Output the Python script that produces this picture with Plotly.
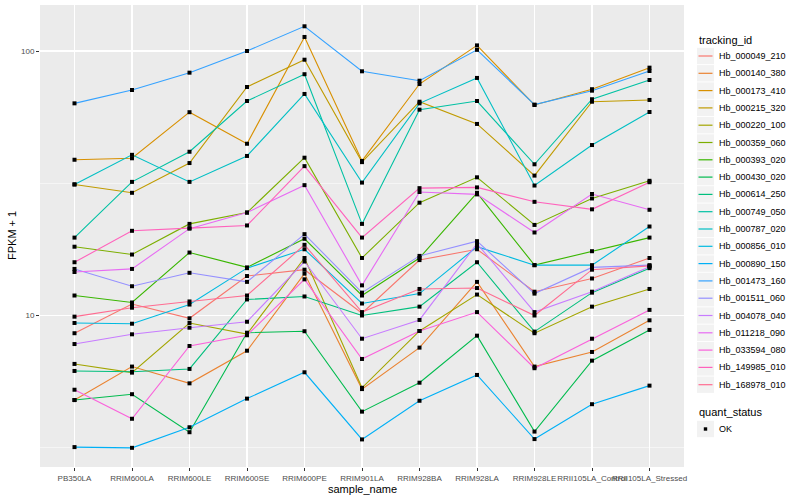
import plotly.graph_objects as go

samples = ["PB350LA", "RRIM600LA", "RRIM600LE", "RRIM600SE", "RRIM600PE", "RRIM901LA",
           "RRIM928BA", "RRIM928LA", "RRIM928LE", "RRII105LA_Control", "RRII105LA_Stressed"]

tracking_ids = ["Hb_000049_210", "Hb_000140_380", "Hb_000173_410", "Hb_000215_320", "Hb_000220_100",
                "Hb_000359_060", "Hb_000393_020", "Hb_000430_020", "Hb_000614_250", "Hb_000749_050",
                "Hb_000787_020", "Hb_000856_010", "Hb_000890_150", "Hb_001473_160", "Hb_001511_060",
                "Hb_004078_040", "Hb_011218_090", "Hb_033594_080", "Hb_149985_010", "Hb_168978_010"]

colors = ["#F8766D", "#EA8331", "#D89000", "#C09B00", "#A3A500", "#7CAE00", "#39B600", "#00BB4E",
          "#00BF7D", "#00C1A3", "#00BFC4", "#00BAE0", "#00B0F6", "#35A2FF", "#9590FF", "#C77CFF",
          "#E76BF3", "#FA62DB", "#FF62BC", "#FF6C91"]

# FPKM + 1 values per gene, in sample order
Hb_000049_210 = [8.57, 11.05, 9.76, 14.1, 14.9, 10.2, 16.2, 17.8, 12.3, 13.8, 16.5]
Hb_000140_380 = [4.79, 6.41, 5.54, 7.36, 14.4, 5.27, 7.56, 13.4, 6.41, 7.28, 9.59]
Hb_000173_410 = [38.8, 39.3, 58.7, 44.6, 113, 38.4, 75.0, 105, 62.5, 71.7, 86.5]
Hb_000215_320 = [31.3, 29.1, 37.7, 73.1, 92.7, 38.0, 64.3, 53.0, 33.8, 64.3, 65.3]
Hb_000220_100 = [6.56, 6.08, 9.37, 8.51, 16.5, 5.33, 8.74, 12.0, 8.57, 10.8, 12.6]
Hb_000359_060 = [18.2, 17.0, 22.2, 24.5, 39.5, 16.5, 26.7, 33.3, 22.0, 27.7, 32.3]
Hb_000393_020 = [11.9, 11.2, 17.3, 15.2, 19.5, 11.9, 16.5, 29.1, 15.5, 17.5, 19.7]
Hb_000430_020 = [4.79, 5.04, 3.62, 8.61, 8.72, 4.33, 5.57, 8.39, 3.64, 6.75, 8.82]
Hb_000614_250 = [6.17, 6.13, 6.28, 11.5, 11.8, 10.0, 10.8, 15.9, 8.69, 12.2, 15.1]
Hb_000749_050 = [19.7, 32.0, 41.6, 64.7, 81.7, 22.2, 60.0, 64.7, 37.3, 65.7, 77.7]
Hb_000787_020 = [31.3, 40.5, 32.0, 40.1, 68.8, 31.8, 63.4, 79.1, 31.0, 44.1, 58.8]
Hb_000856_010 = [9.37, 9.31, 11.0, 15.1, 17.8, 11.1, 12.1, 18.2, 15.5, 15.5, 21.7]
Hb_000890_150 = [3.18, 3.16, 3.78, 4.85, 6.10, 3.40, 4.76, 5.96, 3.41, 4.62, 5.43]
Hb_001473_160 = [63.4, 71.2, 82.8, 100, 124, 83.8, 77.2, 101, 62.7, 70.8, 84.0]
Hb_001511_060 = [15.0, 12.9, 14.5, 13.4, 20.3, 12.2, 16.8, 19.1, 12.1, 15.2, 15.5]
Hb_004078_040 = [7.80, 8.49, 8.99, 9.47, 16.0, 8.17, 9.62, 18.7, 10.3, 12.3, 15.3]
Hb_011218_090 = [14.6, 15.0, 21.3, 24.5, 31.1, 13.0, 29.3, 28.7, 20.6, 28.8, 25.1]
Hb_033594_080 = [5.24, 4.07, 7.67, 8.42, 13.7, 6.85, 8.74, 10.3, 6.32, 8.17, 10.5]
Hb_149985_010 = [15.9, 20.9, 21.4, 21.9, 36.7, 19.7, 30.3, 30.5, 26.9, 25.2, 31.9]
Hb_168978_010 = [9.9, 10.7, 11.3, 11.9, 18.5, 10.3, 12.6, 12.7, 10.0, 14.9, 15.4]

series = [Hb_000049_210, Hb_000140_380, Hb_000173_410, Hb_000215_320, Hb_000220_100,
          Hb_000359_060, Hb_000393_020, Hb_000430_020, Hb_000614_250, Hb_000749_050,
          Hb_000787_020, Hb_000856_010, Hb_000890_150, Hb_001473_160, Hb_001511_060,
          Hb_004078_040, Hb_011218_090, Hb_033594_080, Hb_149985_010, Hb_168978_010]

y_ticks = [10, 100]
y_minor = [3.1623, 31.623]

FONT = "Liberation Sans, Arial, Helvetica, sans-serif"

fig = go.Figure()
for name, vals, col in zip(tracking_ids, series, colors):
    fig.add_trace(go.Scatter(x=samples, y=vals, mode="lines", name=name,
                             line=dict(color=col, width=1.1), hoverinfo="skip"))

# points layer (quant_status = OK)
all_x, all_y = [], []
for vals in series:
    all_x += samples
    all_y += vals
fig.add_trace(go.Scatter(x=all_x, y=all_y, mode="markers", name="OK", hoverinfo="skip",
                         marker=dict(color="black", size=4, symbol="square")))

L, R, T, B = 40, 116, 5, 33
W, H = 800, 500
pw, ph = W - L - R, H - T - B


def pxx(x):
    return (x - L) / pw


def pyy(y):
    return (H - B - y) / ph


fig.update_layout(
    width=W, height=H,
    margin=dict(l=L, r=R, t=T, b=B, autoexpand=False),
    paper_bgcolor="white", plot_bgcolor="#EBEBEB",
    showlegend=False, hovermode=False,
    font=dict(family=FONT, color="#4D4D4D"),
    xaxis=dict(type="category", categoryorder="array", categoryarray=samples,
               range=[-0.6, len(samples) - 0.4], automargin=False, tickangle=0,
               showgrid=True, gridcolor="white", gridwidth=1.1,
               ticks="outside", ticklen=3, tickcolor="#333333", tickwidth=1,
               tickfont=dict(size=8, color="#4D4D4D", family=FONT),
               zeroline=False, showline=False),
    yaxis=dict(type="log", range=[0.4272, 2.1739], automargin=False,
               tickvals=y_ticks, ticktext=[str(v) for v in y_ticks],
               showgrid=True, gridcolor="white", gridwidth=1.1,
               minor=dict(tickvals=y_minor, showgrid=True, gridcolor="white", gridwidth=0.5, ticks=""),
               ticks="outside", ticklen=3, tickcolor="#333333", tickwidth=1,
               tickfont=dict(size=8, color="#4D4D4D", family=FONT),
               zeroline=False, showline=False),
)

annotations = [
    dict(text="sample_name", x=0.5, y=pyy(489), xref="paper", yref="paper",
         showarrow=False, xanchor="center", yanchor="middle",
         font=dict(size=11, color="black", family=FONT)),
    dict(text="FPKM + 1", x=pxx(12), y=0.5, xref="paper", yref="paper", textangle=-90,
         showarrow=False, xanchor="center", yanchor="middle",
         font=dict(size=11, color="black", family=FONT)),
    dict(text="tracking_id", x=pxx(697), y=pyy(40.5), xref="paper", yref="paper",
         showarrow=False, xanchor="left", yanchor="middle",
         font=dict(size=11, color="black", family=FONT)),
    dict(text="quant_status", x=pxx(697), y=pyy(412), xref="paper", yref="paper",
         showarrow=False, xanchor="left", yanchor="middle",
         font=dict(size=11, color="black", family=FONT)),
]
shapes = []
key_x0, key_x1 = 697, 714
step = 17.3
for i, (name, col) in enumerate(zip(tracking_ids, colors)):
    cy = 56 + step * i
    shapes.append(dict(type="rect", xref="paper", yref="paper",
                       x0=pxx(key_x0), x1=pxx(key_x1), y0=pyy(cy - 8.2), y1=pyy(cy + 8.2),
                       fillcolor="#F2F2F2", line=dict(width=0), layer="below"))
    shapes.append(dict(type="line", xref="paper", yref="paper",
                       x0=pxx(key_x0 + 1.5), x1=pxx(key_x1 - 1.5), y0=pyy(cy), y1=pyy(cy),
                       line=dict(color=col, width=1.2)))
    annotations.append(dict(text=name, x=pxx(717), y=pyy(cy), xref="paper", yref="paper",
                            showarrow=False, xanchor="left", yanchor="middle",
                            font=dict(size=9, color="black", family=FONT)))

ok_y = 429
shapes.append(dict(type="rect", xref="paper", yref="paper",
                   x0=pxx(key_x0), x1=pxx(key_x1), y0=pyy(ok_y - 8.2), y1=pyy(ok_y + 8.2),
                   fillcolor="#F2F2F2", line=dict(width=0), layer="below"))
shapes.append(dict(type="rect", xref="paper", yref="paper",
                   x0=pxx(703.8), x1=pxx(707.2), y0=pyy(ok_y - 1.7), y1=pyy(ok_y + 1.7),
                   fillcolor="black", line=dict(width=0)))
annotations.append(dict(text="OK", x=pxx(717), y=pyy(ok_y), xref="paper", yref="paper",
                        showarrow=False, xanchor="left", yanchor="middle",
                        font=dict(size=9, color="black", family=FONT)))

fig.update_layout(annotations=annotations, shapes=shapes)

fig.write_html("out.html", config={"displayModeBar": False, "staticPlot": True},
               post_script="document.body.style.margin='0';document.body.style.padding='0';")
